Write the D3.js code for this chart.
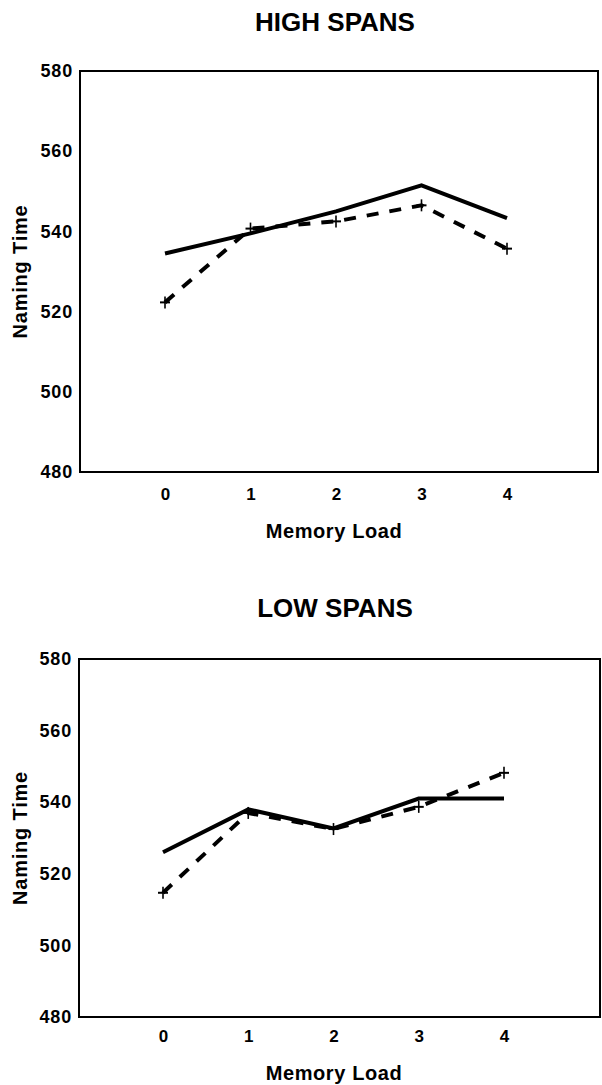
<!DOCTYPE html>
<html>
<head>
<meta charset="utf-8">
<script src="https://cdn.jsdelivr.net/npm/d3@7"></script>
<style>
  body { margin: 0; background: #fff; }
  text { font-family: "Liberation Sans", Arial, sans-serif; font-weight: bold; fill: #000; }
</style>
</head>
<body>
<div id="chart"></div>
<script>
// values
var loads = [0, 1, 2, 3, 4];
var yTicks = [480, 500, 520, 540, 560, 580];
var highSolid = [534.5, 539.5, 545, 551.5, 543.3];
var highDashed = [522.3, 540.7, 542.5, 546.5, 535.7];
var lowSolid = [526, 538, 532.7, 541, 541];
var lowDashed = [514.7, 537, 532.5, 538.7, 548.2];

var svg = d3.select("#chart")
  .append("svg")
  .attr("width", 602)
  .attr("height", 1085);

function drawPanel(p) {
  var x = d3.scaleLinear().domain([0, 4]).range([p.x0, p.x4]);
  var y = d3.scaleLinear().domain([480, 580]).range([p.bottom, p.top]);

  // title
  svg.append("text")
    .attr("x", 335)
    .attr("y", p.titleY)
    .attr("text-anchor", "middle")
    .attr("font-size", "26px")
    .text(p.title);

  // frame
  svg.append("rect")
    .attr("x", p.left)
    .attr("y", p.top)
    .attr("width", p.right - p.left)
    .attr("height", p.bottom - p.top)
    .attr("fill", "none")
    .attr("stroke", "#000")
    .attr("stroke-width", 2);

  // y axis labels
  var leftAxis = d3.axisLeft(y).tickValues(yTicks).tickSize(0).tickPadding(7);
  var gy = svg.append("g")
    .attr("transform", `translate(${p.left}, 0)`)
    .call(leftAxis);
  gy.select(".domain").remove();
  gy.selectAll("text")
    .attr("font-size", "18px")
    .attr("letter-spacing", "0.8px")
    .attr("font-family", "Liberation Sans, Arial, sans-serif");

  // x axis labels
  var bottomAxis = d3.axisBottom(x).tickValues(loads).tickSize(0).tickPadding(p.xPad).tickFormat(d3.format("d"));
  var gx = svg.append("g")
    .attr("transform", `translate(0, ${p.bottom})`)
    .call(bottomAxis);
  gx.select(".domain").remove();
  gx.selectAll("text")
    .attr("font-size", "17px")
    .attr("font-family", "Liberation Sans, Arial, sans-serif");

  // axis titles
  svg.append("text")
    .attr("x", 334)
    .attr("y", p.bottom + p.labelOff)
    .attr("text-anchor", "middle")
    .attr("font-size", "20px")
    .attr("letter-spacing", "0.6px")
    .text("Memory Load");

  svg.append("text")
    .attr("transform", `translate(27, ${(p.top + p.bottom) / 2}) rotate(-90)`)
    .attr("text-anchor", "middle")
    .attr("font-size", "20px")
    .attr("letter-spacing", "0.8px")
    .text("Naming Time");

  var line = d3.line()
    .x(function(d, i) { return x(loads[i]); })
    .y(function(d) { return y(d); });

  svg.append("path")
    .datum(p.solid)
    .attr("d", line)
    .attr("fill", "none")
    .attr("stroke", "#000")
    .attr("stroke-width", 4);

  svg.append("path")
    .datum(p.dashed)
    .attr("d", line)
    .attr("fill", "none")
    .attr("stroke", "#000")
    .attr("stroke-width", 4)
    .attr("stroke-dasharray", "12,11");

  // plus markers on the dashed series
  var sym = d3.symbol().type(d3.symbolCross).size(30);
  svg.selectAll(null)
    .data(p.dashed)
    .enter()
    .append("g")
    .attr("transform", function(d, i) { return `translate(${x(loads[i])}, ${y(d)})`; })
    .each(function() {
      var g = d3.select(this);
      g.append("line").attr("x1", -5).attr("x2", 5).attr("y1", 0).attr("y2", 0)
        .attr("stroke", "#000").attr("stroke-width", 2);
      g.append("line").attr("x1", 0).attr("x2", 0).attr("y1", -6).attr("y2", 6)
        .attr("stroke", "#000").attr("stroke-width", 1.6);
    });
}

drawPanel({
  title: "HIGH SPANS", titleY: 31,
  left: 80, right: 598, top: 71, bottom: 472,
  x0: 165, x4: 507, xPad: 16, labelOff: 66,
  solid: highSolid, dashed: highDashed
});

drawPanel({
  title: "LOW SPANS", titleY: 617,
  left: 79, right: 600, top: 659, bottom: 1017,
  x0: 163, x4: 504, xPad: 13, labelOff: 63,
  solid: lowSolid, dashed: lowDashed
});
</script>
</body>
</html>
